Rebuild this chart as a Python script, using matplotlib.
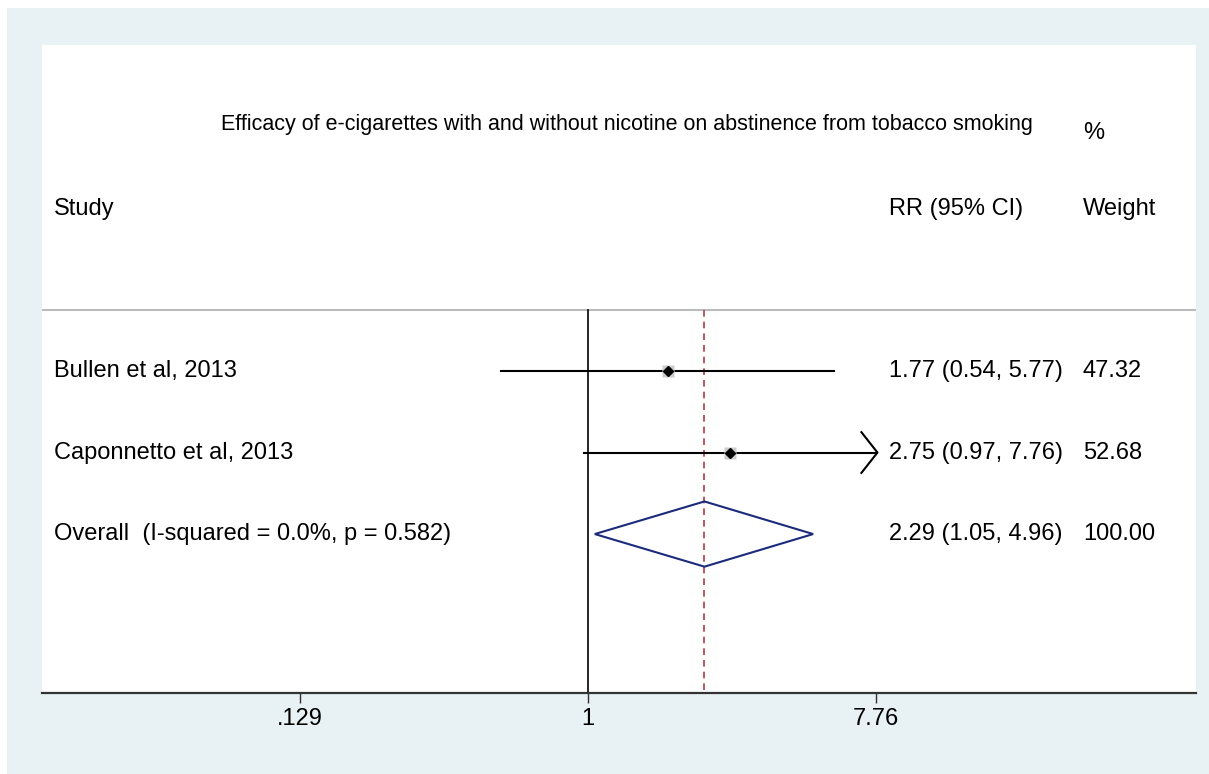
import numpy as np
import matplotlib.pyplot as plt
from matplotlib.patches import Polygon, Rectangle

plt.rcParams['font.family'] = ['Liberation Sans', 'DejaVu Sans']

# data
studies = ["Bullen et al, 2013", "Caponnetto et al, 2013"]
rr = [1.77, 2.75]
lo = [0.54, 0.97]
hi = [5.77, 7.76]
weights = [47.32, 52.68]
overall_label = "Overall  (I-squared = 0.0%, p = 0.582)"
overall_rr = 2.29
overall_lo = 1.05
overall_hi = 4.96
xticks = [0.129, 1, 7.76]
xticklabels = [".129", "1", "7.76"]
xmax_clip = 7.76

W, H = 1209, 774
fig = plt.figure(figsize=(12.09, 7.74), dpi=100)
fig.patch.set_facecolor('white')
# light blue outer region (Stata graph region)
fig.patches.append(Rectangle((7/W, 0), 1 - 7/W, 1 - 8/H, transform=fig.transFigure,
                             facecolor='#e8f1f3', edgecolor='none', zorder=-1))

ax = fig.add_axes([42/W, 1 - 693/H, (1196-42)/W, (693-45)/H])
ax.set_facecolor('white')
ax.set_xscale('log')
xl = 0.0206
ax.set_xlim(xl, 75.5)
ax.set_ylim(4.95, -3.0)
for s in ['top', 'right', 'left']:
    ax.spines[s].set_visible(False)
ax.spines['bottom'].set_linewidth(1.6)
ax.spines['bottom'].set_color('#333333')
ax.set_yticks([])
ax.set_xticks(xticks)
ax.set_xticklabels(xticklabels, fontsize=17)
ax.xaxis.set_minor_locator(plt.NullLocator())
ax.tick_params(axis='x', length=7, width=1, color='#333333', pad=4)

fs = 17
x_study = xl * 1.09
x_ci = 8.49
x_wt = 33.8

# header line
ax.axhline(0.25, color='#bbbbbb', lw=1.5)
# no-effect line and overall dashed line
ax.plot([1, 1], [0.25, 4.95], color='black', lw=1.2, zorder=2)
ax.plot([overall_rr, overall_rr], [0.25, 4.95], color='#b03a48', lw=1.2, ls=(0, (4, 3)), zorder=2)

# study rows
for i, name in enumerate(studies):
    y = i + 1
    right = min(hi[i], xmax_clip)
    ax.plot([lo[i], right], [y, y], color='black', lw=1.5, zorder=3)
    if hi[i] >= xmax_clip:
        ax.plot([right / 1.11, right * 1.01, right / 1.11], [y - 0.25, y, y + 0.25],
                color='black', lw=1.5, zorder=3)
    ax.plot(rr[i], y, marker='s', ms=9 * np.sqrt(weights[i] / 50), color='#cccccc',
            mec='none', zorder=3)
    ax.plot(rr[i], y, marker='D', ms=5, color='black', zorder=4)
    ax.text(x_study, y, name, fontsize=fs, va='center', ha='left')
    ax.text(x_ci, y, "%.2f (%.2f, %.2f)" % (rr[i], lo[i], hi[i]), fontsize=fs,
            va='center', ha='left')
    ax.text(x_wt, y, "%.2f" % weights[i], fontsize=fs, va='center', ha='left')

# overall diamond
yo = 3
ax.add_patch(Polygon([[overall_lo, yo], [overall_rr, yo - 0.4], [overall_hi, yo],
                      [overall_rr, yo + 0.4]], closed=True, fill=False,
                     edgecolor='#1c2a7c', lw=1.5, zorder=3))
ax.text(x_study, yo, overall_label, fontsize=fs, va='center', ha='left')
ax.text(x_ci, yo, "%.2f (%.2f, %.2f)" % (overall_rr, overall_lo, overall_hi),
        fontsize=fs, va='center', ha='left')
ax.text(x_wt, yo, "%.2f" % 100.0, fontsize=fs, va='center', ha='left')

# headers
ax.text(x_study, -0.99, "Study", fontsize=fs, va='center', ha='left')
ax.text(x_ci, -0.99, "RR (95% CI)", fontsize=fs, va='center', ha='left')
ax.text(x_wt, -0.99, "Weight", fontsize=fs, va='center', ha='left')
ax.text(x_wt, -1.92, "%", fontsize=fs, va='center', ha='left')
ax.text(1.32, -2.02, "Efficacy of e-cigarettes with and without nicotine on abstinence from tobacco smoking",
        fontsize=15.5, va='center', ha='center')

fig.savefig('out.png', dpi=100)
